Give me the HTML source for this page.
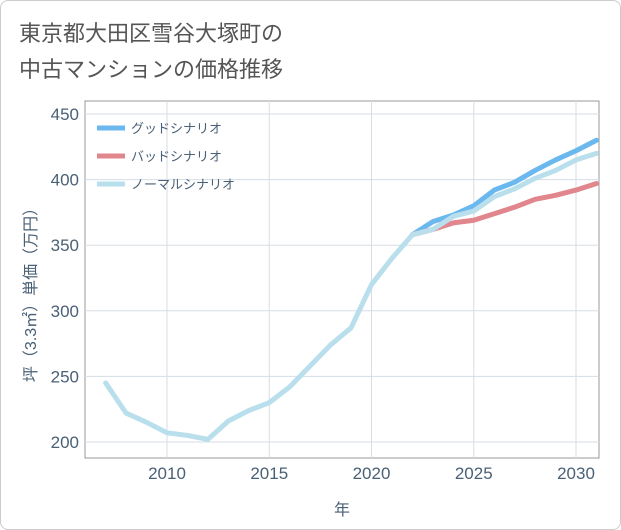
<!DOCTYPE html>
<html><head><meta charset="utf-8"><style>
body{margin:0;background:#fff;font-family:"Liberation Sans","Noto Sans CJK JP",sans-serif;}
#wrap{position:relative;width:621px;height:530px;box-sizing:border-box;border:1px solid #ccc;border-radius:8px;overflow:hidden;background:#fff;}
</style></head><body>
<div id="wrap">
<svg id="chart" width="621" height="530"></svg>
</div>
<script>
const years=[2007,2008,2009,2010,2011,2012,2013,2014,2015,2016,2017,2018,2019,2020,2021,2022,2023,2024,2025,2026,2027,2028,2029,2030,2031];
const normal=[245,222,215,207,205,202,216,224,230,242,258,274,287,320,340,358,362,372,376,387,393,401,407,415,420];
const goodYears=[2022,2023,2024,2025,2026,2027,2028,2029,2030,2031];
const good=[358,368,373,380,392,398,407,415,422,430];
const bad=[358,362,367,369,374,379,385,388,392,397];
const xTicks=[2010,2015,2020,2025,2030];
const yTicks=[200,250,300,350,400,450];
const ns="http://www.w3.org/2000/svg";
const svg=document.getElementById('chart');
const L=84,R=598,T=100,B=457;
const C='#4a6076';
const x=v=>166+(v-2010)*(575-166)/20;
const y=v=>441-(v-200)*(441-113)/250;
function mk(tag,attrs,parent){const e=document.createElementNS(ns,tag);for(const k in attrs)e.setAttribute(k,attrs[k]);(parent||svg).appendChild(e);return e;}
function txt(s,attrs){const e=mk('text',attrs);e.textContent=s;return e;}
const t1=txt('東京都大田区雪谷大塚町の',{x:18,y:40,'font-size':22,fill:'#555'});

const t2=txt('中古マンションの価格推移',{x:18,y:76,'font-size':22,fill:'#555'});

const pa=mk('rect',{x:L,y:T,width:R-L,height:B-T,fill:'none',stroke:'#999','stroke-width':1});

yTicks.forEach(v=>{const g=mk('line',{x1:L,x2:R,y1:y(v),y2:y(v),stroke:'#d5dee6'});
const l=txt(v,{x:L-6,y:y(v)+6,'text-anchor':'end','font-size':17,fill:C});});
xTicks.forEach(v=>{const g=mk('line',{x1:x(v),x2:x(v),y1:T,y2:B,stroke:'#d5dee6'});
const l=txt(v,{x:x(v),y:B+21,'text-anchor':'middle','font-size':17,fill:C});});
const xt=txt('年',{x:341,y:514,'text-anchor':'middle','font-size':16,fill:C});
const yt=txt('坪（3.3㎡）単価（万円）',{x:0,y:0,'text-anchor':'middle','font-size':16,fill:C,transform:'translate(35,290) rotate(-90)'});
function line(xs,vs,color,name){const d=xs.map((v,i)=>(i?'L':'M')+x(v)+','+y(vs[i])).join(' ');const p=mk('path',{d:d,fill:'none',stroke:color,'stroke-width':5,'stroke-linejoin':'round','stroke-linecap':'round'});}
line(goodYears,good,'#6bb8ef','good-scenario-line');
line(goodYears,bad,'#e0868c','bad-scenario-line');
line(years,normal,'#b9dfec','normal-scenario-line');
const leg=[['グッドシナリオ','#6bb8ef'],['バッドシナリオ','#e0868c'],['ノーマルシナリオ','#b9dfec']];
leg.forEach((e,i)=>{const yy=127+i*28;const s=mk('line',{x1:96,x2:124,y1:yy,y2:yy,stroke:e[1],'stroke-width':5});
const l=txt(e[0],{x:130,y:yy+5,'font-size':13,fill:C});});
</script>
</body></html>
